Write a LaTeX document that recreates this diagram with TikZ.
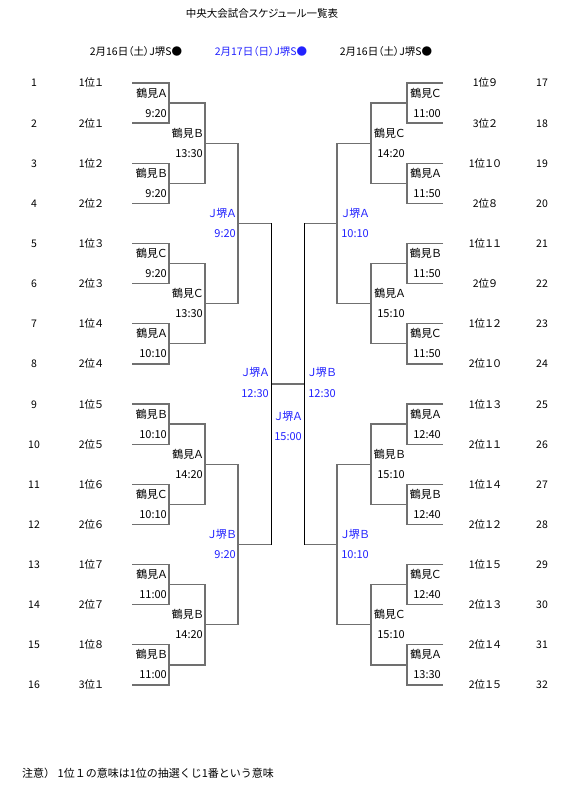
\documentclass[tikz,border=0pt]{standalone}
\usepackage{fontspec}
\setmainfont{Noto Sans CJK JP}[RawFeature=+palt]
\newfontfamily\fwfont{Noto Sans CJK JP}
\definecolor{lg}{HTML}{707070}
\definecolor{jblue}{HTML}{2222FF}
\begin{document}
\begin{tikzpicture}[x=1pt,y=-1pt,
  ln/.style={draw=lg, line width=1.3pt},
  fl/.style={draw=black, line width=0.9pt},
  lbl/.style={anchor=base east, inner sep=0pt, font=\fontsize{11}{13}\selectfont},
  blbl/.style={lbl, text=jblue},
  seed/.style={anchor=base, inner sep=0pt, font=\fontsize{10.5}{12}\selectfont},
  hdr/.style={anchor=base, inner sep=0pt, font=\fontsize{10.5}{12}\selectfont},
]
\useasboundingbox (0,0) rectangle (576,791);
\fill[white] (0,0) rectangle (576,791);

% title and headers
\node[hdr] (title) at (262,17.5) {中央大会試合スケジュール一覧表};
\node[hdr] (h1) at (136,56) {2月16日（土）J堺S●};
\node[hdr, text=jblue] (h2) at (261,56) {2月17日（日）J堺S●};
\node[hdr] (h3) at (386,56) {2月16日（土）J堺S●};
\node[anchor=base west, inner sep=0pt, font=\fwfont\fontsize{11}{13}\selectfont] (note) at (22,777) {注意）\ 1位１の意味は1位の抽選くじ1番という意味};

% seeds left
\foreach \t [count=\i] in {1位１,2位１,1位２,2位２,1位３,2位３,1位４,2位４,1位５,2位５,1位６,2位６,1位７,2位７,1位８,3位１}{
  \node[seed] (ln\i) at (34,{83+(\i-1)*40.13+4}) {\i};
  \node[seed] (le\i) at (91,{83+(\i-1)*40.13+4}) {\t};
}
% seeds right
\foreach \t [count=\i] in {1位９,3位２,1位１０,2位８,1位１１,2位９,1位１２,2位１０,1位１３,2位１１,1位１４,2位１２,1位１５,2位１３,2位１４,2位１５}{
  \pgfmathtruncatemacro\n{\i+16}
  \node[seed] (rn\i) at (542,{83+(\i-1)*40.13+4}) {\n};
  \node[seed] (re\i) at (485,{83+(\i-1)*40.13+4}) {\t};
}

% left round 1
\foreach \v/\tm [count=\k] in {鶴見Ａ/9:20,鶴見Ｂ/9:20,鶴見Ｃ/9:20,鶴見Ａ/10:10,鶴見Ｂ/10:10,鶴見Ｃ/10:10,鶴見Ａ/11:00,鶴見Ｂ/11:00}{
  \pgfmathsetmacro\ya{83+(2*\k-2)*40.13}
  \pgfmathsetmacro\yb{83+(2*\k-1)*40.13}
  \pgfmathsetmacro\ym{(\ya+\yb)/2}
  \coordinate (la\k) at (132,\ya);
  \coordinate (lb\k) at (132,\yb);
  \coordinate (l1m\k) at (169,\ym);
  \draw[ln] (la\k) -| (l1m\k) |- (lb\k);
  \node[lbl] at (167,\ym-6) {\v};
  \node[lbl] at (167,\ym+14) {\tm};
}
% right round 1
\foreach \v/\tm [count=\k] in {鶴見Ｃ/11:00,鶴見Ａ/11:50,鶴見Ｂ/11:50,鶴見Ｃ/11:50,鶴見Ａ/12:40,鶴見Ｂ/12:40,鶴見Ｃ/12:40,鶴見Ａ/13:30}{
  \pgfmathsetmacro\ya{83+(2*\k-2)*40.13}
  \pgfmathsetmacro\yb{83+(2*\k-1)*40.13}
  \pgfmathsetmacro\ym{(\ya+\yb)/2}
  \coordinate (ra\k) at (443,\ya);
  \coordinate (rb\k) at (443,\yb);
  \coordinate (r1m\k) at (407,\ym);
  \draw[ln] (ra\k) -| (r1m\k) |- (rb\k);
  \node[lbl] at (441,\ym-6) {\v};
  \node[lbl] at (441,\ym+14) {\tm};
}
% left round 2
\foreach \v/\tm [count=\m] in {鶴見Ｂ/13:30,鶴見Ｃ/13:30,鶴見Ａ/14:20,鶴見Ｂ/14:20}{
  \pgfmathtruncatemacro\p{2*\m-1}
  \pgfmathtruncatemacro\q{2*\m}
  \pgfmathsetmacro\ym{83+(4*\m-2.5)*40.13}
  \coordinate (l2m\m) at (205,\ym);
  \draw[ln] (l1m\p) -| (l2m\m) |- (l1m\q);
  \node[lbl] at (203,\ym-6) {\v};
  \node[lbl] at (203,\ym+14) {\tm};
}
% right round 2
\foreach \v/\tm [count=\m] in {鶴見Ｃ/14:20,鶴見Ａ/15:10,鶴見Ｂ/15:10,鶴見Ｃ/15:10}{
  \pgfmathtruncatemacro\p{2*\m-1}
  \pgfmathtruncatemacro\q{2*\m}
  \pgfmathsetmacro\ym{83+(4*\m-2.5)*40.13}
  \coordinate (r2m\m) at (371,\ym);
  \draw[ln] (r1m\p) -| (r2m\m) |- (r1m\q);
  \node[lbl] at (405,\ym-6) {\v};
  \node[lbl] at (405,\ym+14) {\tm};
}
% left round 3
\foreach \v/\tm [count=\j] in {Ｊ堺Ａ/9:20,Ｊ堺Ｂ/9:20}{
  \pgfmathtruncatemacro\p{2*\j-1}
  \pgfmathtruncatemacro\q{2*\j}
  \pgfmathsetmacro\ym{83+(8*\j-4.5)*40.13}
  \coordinate (l3m\j) at (238,\ym);
  \draw[ln] (l2m\p) -| (l3m\j) |- (l2m\q);
  \node[blbl] at (236,\ym-6) {\v};
  \node[blbl] at (236,\ym+14) {\tm};
}
% right round 3
\foreach \v/\tm [count=\j] in {Ｊ堺Ａ/10:10,Ｊ堺Ｂ/10:10}{
  \pgfmathtruncatemacro\p{2*\j-1}
  \pgfmathtruncatemacro\q{2*\j}
  \pgfmathsetmacro\ym{83+(8*\j-4.5)*40.13}
  \coordinate (r3m\j) at (337,\ym);
  \draw[ln] (r2m\p) -| (r3m\j) |- (r2m\q);
  \node[blbl] at (369,\ym-6) {\v};
  \node[blbl] at (369,\ym+14) {\tm};
}
% semifinals
\coordinate (l4m) at (271,{83+7.5*40.13});
\coordinate (r4m) at (304,{83+7.5*40.13});
\draw[ln] (l3m1) -- (l3m1 -| l4m);
\draw[ln] (l3m2) -- (l3m2 -| l4m);
\draw[ln] (r3m1) -- (r3m1 -| r4m);
\draw[ln] (r3m2) -- (r3m2 -| r4m);
% final
\draw[ln] (l4m) -- (r4m);
\draw[fl] (l3m1 -| l4m) -- (l3m2 -| l4m);
\draw[fl] (r3m1 -| r4m) -- (r3m2 -| r4m);
\node[blbl] (sfl1) at (269,{83+7.5*40.13-7}) {Ｊ堺Ａ};
\node[blbl] (sfl2) at (269,{83+7.5*40.13+14}) {12:30};
\node[blbl] (sfr1) at (336,{83+7.5*40.13-7}) {Ｊ堺Ｂ};
\node[blbl] (sfr2) at (336,{83+7.5*40.13+14}) {12:30};
\node[blbl] (fin1) at (302,420) {Ｊ堺Ａ};
\node[blbl] (fin2) at (302,440) {15:00};
\end{tikzpicture}
\end{document}
